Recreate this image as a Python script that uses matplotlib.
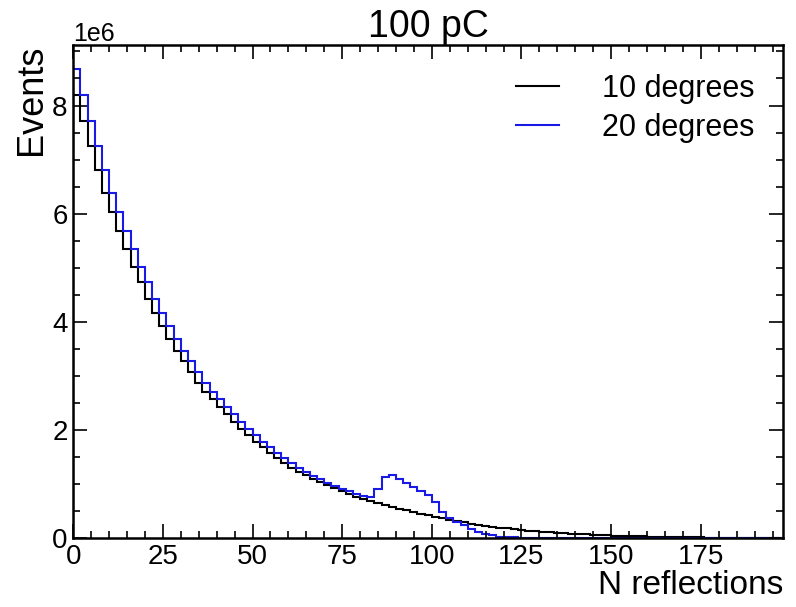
import numpy as np
import matplotlib
matplotlib.use("Agg")
import matplotlib.pyplot as plt
from matplotlib.ticker import MultipleLocator

plt.rcParams["font.family"] = ["Liberation Sans", "DejaVu Sans"]

# histogram binning: 2-wide bins from 0 to 198
bin_edges = np.arange(0, 200, 2)

# events per bin (units of 1e6)
deg10 = [
    8.19, 7.72, 7.25, 6.81, 6.39, 6.03, 5.68, 5.34, 5.02, 4.74,
    4.42, 4.16, 3.93, 3.68, 3.47, 3.27, 3.07, 2.87, 2.71, 2.57,
    2.43, 2.29, 2.16, 2.03, 1.91, 1.79, 1.69, 1.58, 1.49, 1.39,
    1.31, 1.23, 1.17, 1.10, 1.04, 0.98, 0.93, 0.87, 0.82, 0.77,
    0.73, 0.69, 0.65, 0.61, 0.58, 0.55, 0.52, 0.49, 0.46, 0.43,
    0.40, 0.37, 0.345, 0.32, 0.295, 0.275, 0.255, 0.235, 0.215, 0.20,
    0.185, 0.17, 0.16, 0.145, 0.135, 0.125, 0.115, 0.105, 0.097, 0.089,
    0.082, 0.075, 0.069, 0.063, 0.058, 0.053, 0.048, 0.044, 0.040, 0.037,
    0.034, 0.031, 0.028, 0.025, 0.023, 0.021, 0.019, 0.017, 0.016, 0.014,
    0.013, 0.012, 0.011, 0.010, 0.009, 0.008, 0.007, 0.006, 0.006,
]
deg20 = [
    8.67, 8.19, 7.72, 7.25, 6.81, 6.39, 6.03, 5.68, 5.34, 5.02,
    4.74, 4.42, 4.16, 3.93, 3.68, 3.47, 3.27, 3.07, 2.87, 2.71,
    2.57, 2.43, 2.29, 2.16, 2.03, 1.91, 1.79, 1.69, 1.58, 1.49,
    1.39, 1.31, 1.23, 1.16, 1.09, 1.03, 0.97, 0.92, 0.87, 0.82,
    0.78, 0.76, 0.92, 1.13, 1.17, 1.09, 1.03, 0.95, 0.88, 0.80,
    0.68, 0.49, 0.38, 0.31, 0.25, 0.18, 0.12, 0.08, 0.055, 0.035,
    0.025, 0.018, 0.012, 0.008, 0.006, 0.004, 0.003, 0.002, 0.001, 0.001,
    0.0, 0.0, 0.0, 0.0, 0.0, 0.0, 0.0, 0.0, 0.0, 0.0,
    0.0, 0.0, 0.0, 0.0, 0.0, 0.0, 0.0, 0.0, 0.0, 0.0,
    0.0, 0.0, 0.0, 0.0, 0.0, 0.0, 0.0, 0.0, 0.0,
]
labels = ["10 degrees", "20 degrees"]
colors = ["black", "#1a1ae6"]

fig = plt.figure(figsize=(7.96, 6.07), dpi=100)
ax = fig.add_axes([0.092, 0.113, 0.892, 0.813])

for vals, lab, col in zip([deg10, deg20], labels, colors):
    ax.stairs(np.array(vals) * 1e6, bin_edges, color=col, lw=1.5, label=lab)

ax.set_xlim(0, 198)
ax.set_ylim(0, 9.12e6)
ax.xaxis.set_major_locator(MultipleLocator(25))
ax.xaxis.set_minor_locator(MultipleLocator(5))
ax.yaxis.set_major_locator(MultipleLocator(2e6))
ax.yaxis.set_minor_locator(MultipleLocator(0.5e6))
ax.ticklabel_format(axis="y", style="sci", scilimits=(6, 6))
ax.yaxis.get_offset_text().set_fontsize(18)

ax.tick_params(which="both", direction="in", top=True, right=True,
               labelsize=20, width=1.2)
ax.tick_params(which="major", length=10, pad=4)
ax.tick_params(which="minor", length=5)
for s in ax.spines.values():
    s.set_linewidth(1.8)

ax.set_xlabel("N reflections", fontsize=24, loc="right", labelpad=0)
ax.set_ylabel("Events", fontsize=26, loc="top", labelpad=2)
ax.set_title("100 pC", fontsize=27, pad=2)

leg = ax.legend(loc="upper right", fontsize=22, frameon=False,
                handlelength=1.4, borderaxespad=0.55, labelspacing=0.3,
                handletextpad=1.4)

fig.savefig("out.png", dpi=100)
